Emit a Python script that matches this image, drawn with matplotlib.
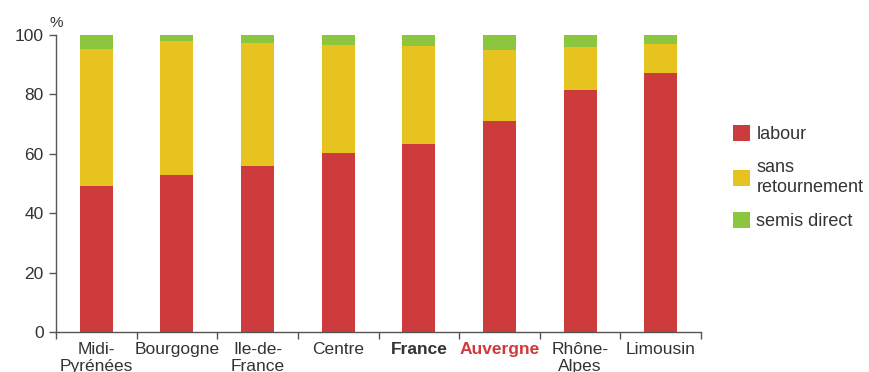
import matplotlib
matplotlib.use("Agg")
import matplotlib.pyplot as plt
import numpy as np
from matplotlib.patches import Patch

plt.rcParams['font.family'] = ['Liberation Sans', 'DejaVu Sans']

regions = ["Midi-\nPyrénées", "Bourgogne", "Ile-de-\nFrance", "Centre", "France",
           "Auvergne", "Rhône-\nAlpes", "Limousin"]
labour = [49.2, 53.0, 56.0, 60.3, 63.3, 71.0, 81.5, 87.2]
sans_retournement = [46.1, 45.0, 41.3, 36.3, 33.0, 24.0, 14.5, 9.8]
semis_direct = [4.7, 2.0, 2.7, 3.4, 3.7, 5.0, 4.0, 3.0]
series_names = ["labour", "sans\nretournement", "semis direct"]
yticks = [0, 20, 40, 60, 80, 100]

colors = ["#CD3B3C", "#E6C31F", "#8CC63F"]
text_color = "#333333"
axis_color = "#555555"

fig = plt.figure(figsize=(8.69, 3.72), dpi=100)
ax = fig.add_axes([56 / 869, 1 - 332 / 372, (701 - 56) / 869, (332 - 35) / 372])

x = np.arange(len(regions))
width = 0.41
bottom = np.zeros(len(regions))
for vals, col in zip([labour, sans_retournement, semis_direct], colors):
    ax.bar(x, vals, width, bottom=bottom, color=col, linewidth=0)
    bottom += np.array(vals)

ax.set_xlim(-0.5, len(regions) - 0.5)
ax.set_ylim(0, 100)

for s in ["top", "right"]:
    ax.spines[s].set_visible(False)
for s in ["left", "bottom"]:
    ax.spines[s].set_color(axis_color)
    ax.spines[s].set_linewidth(1.0)

ax.set_yticks(yticks)
ax.set_yticklabels([str(v) for v in yticks])
ax.tick_params(axis="y", direction="out", length=5, width=1, color=axis_color,
               labelsize=12.5, labelcolor=text_color, pad=4)

# category boundaries carry the ticks, labels sit at the centres
ax.set_xticks(np.arange(len(regions) + 1) - 0.5)
ax.set_xticklabels([])
ax.tick_params(axis="x", which="major", direction="out", length=5, width=1,
               color=axis_color)
ax.set_xticks(x, minor=True)
ax.set_xticklabels(regions, minor=True, fontsize=12.5, color=text_color,
                   linespacing=1.15)
ax.tick_params(axis="x", which="minor", length=0, pad=7)
minor_labels = ax.get_xticklabels(minor=True)
minor_labels[4].set_fontweight("bold")
minor_labels[5].set_fontweight("bold")
minor_labels[5].set_color("#D03A3A")

ax.text(-0.5, 101.6, "%", ha="center", va="bottom", fontsize=11, color=text_color)

handles = [Patch(facecolor=c, edgecolor="none") for c in colors]
fig.legend(handles, series_names, loc="upper left",
           bbox_to_anchor=(733 / 869, 1 - 125 / 372), frameon=False,
           borderpad=0, borderaxespad=0,
           fontsize=13, handlelength=0.95, handleheight=0.95, handletextpad=0.35,
           labelspacing=0.9, labelcolor=text_color)

fig.savefig("out.png", dpi=100)
